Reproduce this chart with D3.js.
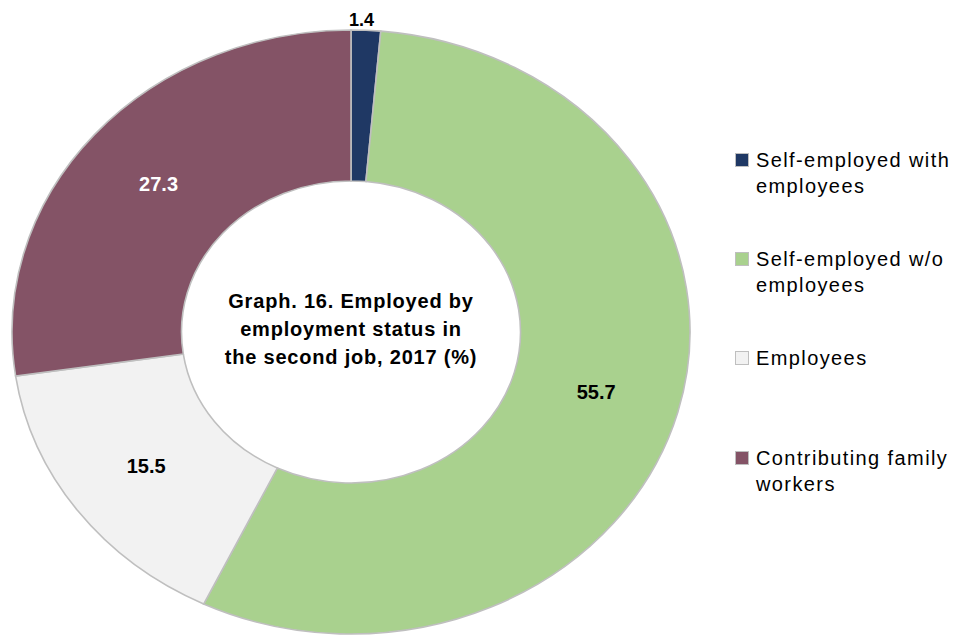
<!DOCTYPE html>
<html>
<head>
<meta charset="utf-8">
<script src="https://cdn.jsdelivr.net/npm/d3@7"></script>
<style>
  body { margin: 0; background: #fff; }
  text { font-family: "Liberation Sans", Arial, sans-serif; }
</style>
</head>
<body>
<svg width="963" height="635"></svg>
<script>
var categories = ["Self-employed with employees", "Self-employed w/o employees", "Employees", "Contributing family workers"]
var values = [1.4, 55.7, 15.5, 27.3]
var legendLines = [["Self-employed with", "employees"], ["Self-employed w/o", "employees"], ["Employees"], ["Contributing family", "workers"]]
var titleLines = ["Graph. 16. Employed by", "employment status in", "the second job, 2017 (%)"]

var colors = ["#1f3864", "#a9d18e", "#f2f2f2", "#845366"]
var labelColors = ["#000", "#000", "#000", "#fff"]

var svg = d3.select("svg")
var cx = 351, cy = 332
var radius = 339, yScale = 0.891

var g = svg.append("g")
  .attr("transform", "translate(" + cx + "," + cy + ") scale(1," + yScale + ")")

var pie = d3.pie().sort(null).value(function (d) { return d; })
var arcs = pie(values)

var arc = d3.arc().innerRadius(radius * 0.5).outerRadius(radius)
var labelArc = d3.arc().innerRadius(radius * 0.75).outerRadius(radius * 0.75)
var outerLabel = d3.arc().innerRadius(radius + 12).outerRadius(radius + 12)

g.selectAll("path")
  .data(arcs)
  .enter()
  .append("path")
  .attr("d", arc)
  .attr("fill", function (d, i) { return colors[i] })
  .attr("stroke", "#bfbfbf")
  .attr("stroke-width", 1.6)
  .attr("vector-effect", "non-scaling-stroke")

// labels, drawn unscaled
var lg = svg.append("g").attr("transform", "translate(" + cx + "," + cy + ")")
lg.selectAll("text")
  .data(arcs)
  .enter()
  .append("text")
  .attr("transform", function (d) {
    var c = d.data < 5 ? outerLabel.centroid(d) : labelArc.centroid(d)
    var dx = d.data < 5 ? -5 : 0
    return "translate(" + (c[0] + dx) + "," + (c[1] * yScale) + ")"
  })
  .attr("text-anchor", "middle")
  .attr("dy", "0.35em")
  .style("font-size", function (d) { return d.data < 5 ? "18px" : "20px" })
  .style("font-weight", "bold")
  .attr("fill", function (d, i) { return labelColors[i] })
  .text(function (d) { return d.data.toFixed(1) })

// title in the hole
var title = svg.append("text")
  .attr("text-anchor", "middle")
  .style("font-size", "20px")
  .style("font-weight", "bold")
  .style("letter-spacing", "0.8px")
  .attr("fill", "#000")
title.selectAll("tspan")
  .data(titleLines)
  .enter()
  .append("tspan")
  .attr("x", cx)
  .attr("y", function (d, i) { return 308 + i * 28 })
  .text(function (d) { return d })

// legend
var legendY = [167, 266, 365, 465]
var legend = svg.append("g")
var items = legend.selectAll("g")
  .data(categories)
  .enter()
  .append("g")
  .attr("transform", function (d, i) { return "translate(735," + legendY[i] + ")" })

items.append("rect")
  .attr("x", 0.5).attr("y", -13.5)
  .attr("width", 13).attr("height", 13)
  .attr("fill", function (d, i) { return colors[i] })
  .attr("stroke", "#bfbfbf")
  .attr("stroke-width", 1)

items.append("text")
  .style("font-size", "20px")
  .style("letter-spacing", "1.4px")
  .attr("fill", "#000")
  .selectAll("tspan")
  .data(function (d, i) { return legendLines[i] })
  .enter()
  .append("tspan")
  .attr("x", 21)
  .attr("y", function (d, i) { return i * 26 })
  .text(function (d) { return d })
</script>
</body>
</html>
